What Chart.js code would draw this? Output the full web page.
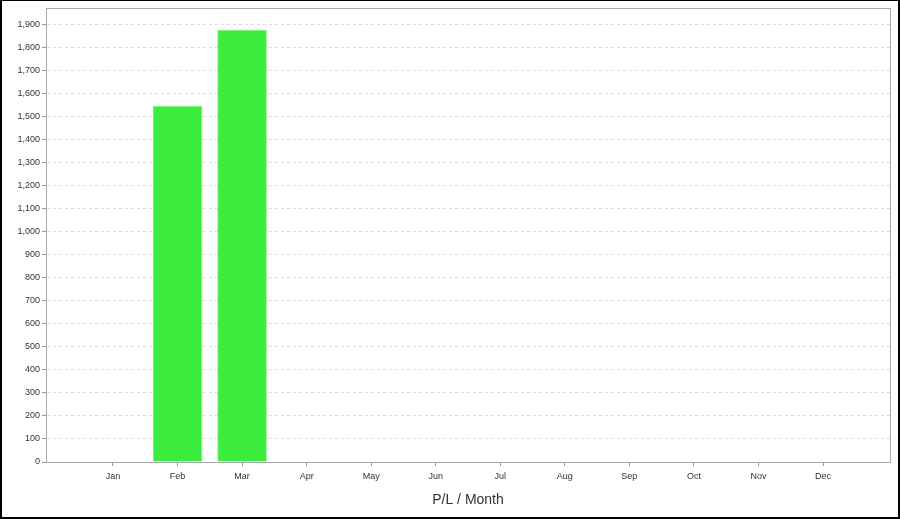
<!DOCTYPE html>
<html>
<head>
<meta charset="utf-8">
<script src="https://cdn.jsdelivr.net/npm/chart.js@4"></script>
<style>
  html, body { margin: 0; padding: 0; background: #fff; }
  canvas { display: block; }
</style>
</head>
<body>
<canvas id="chart" width="900" height="519"></canvas>
<script>
const months = ["Jan", "Feb", "Mar", "Apr", "May", "Jun", "Jul", "Aug", "Sep", "Oct", "Nov", "Dec"];
const profit = [0, 1544, 1874, 0, 0, 0, 0, 0, 0, 0, 0, 0];
const yTicks = [0, 100, 200, 300, 400, 500, 600, 700, 800, 900, 1000, 1100, 1200, 1300, 1400, 1500, 1600, 1700, 1800, 1900];

// frame of the image and border round the plot
const framePlugin = {
  id: "frame",
  beforeDraw(chart) {
    const ctx = chart.ctx;
    ctx.save();
    ctx.fillStyle = "#fff";
    ctx.fillRect(0, 0, chart.width, chart.height);
    ctx.restore();
  },
  afterDraw(chart) {
    const ctx = chart.ctx;
    const a = chart.chartArea;
    ctx.save();
    ctx.strokeStyle = "#aaa";
    ctx.lineWidth = 1;
    ctx.strokeRect(a.left + 0.5, a.top + 0.5, a.right - a.left, a.bottom - a.top);
    ctx.fillStyle = "#000";
    ctx.fillRect(0, 0, chart.width, 1);
    ctx.fillRect(0, 0, 2, chart.height);
    ctx.fillRect(chart.width - 2, 0, 2, chart.height);
    ctx.fillRect(0, chart.height - 2, chart.width, 2);
    ctx.restore();
  }
};

const tickFont = { family: "'Liberation Sans', Arial, sans-serif", size: 9 };

new Chart(document.getElementById("chart"), {
  type: "bar",
  data: {
    datasets: [{
      data: profit.map((v, i) => ({ x: i, y: v })),
      backgroundColor: "#3ded3d",
      borderColor: "#8ff28f",
      borderWidth: 1,
      borderSkipped: "bottom",
      barThickness: 49
    }]
  },
  options: {
    responsive: false,
    animation: false,
    layout: { padding: { left: 0, right: 10, top: 8, bottom: 0 } },
    plugins: {
      legend: { display: false },
      tooltip: { enabled: false }
    },
    scales: {
      x: {
        type: "linear",
        offset: false,
        min: -1.038,
        max: 12.038,
        afterBuildTicks: (scale) => {
          scale.ticks = months.map((m, i) => ({ value: i }));
        },
        afterFit: (scale) => { scale.height = 57; },
        ticks: {
          callback: (v) => months[v],
          font: tickFont,
          color: "#333",
          padding: 5,
          maxRotation: 0,
          autoSkip: false
        },
        grid: {
          offset: false,
          drawOnChartArea: false,
          drawTicks: true,
          tickLength: 4,
          tickColor: "#999"
        },
        border: { color: "#999", width: 1 },
        title: {
          display: true,
          text: "P/L / Month",
          font: { family: "'Liberation Sans', Arial, sans-serif", size: 14 },
          color: "#333",
          padding: { top: 0, bottom: 10 }
        }
      },
      y: {
        min: 0,
        max: 1970,
        afterBuildTicks: (scale) => {
          scale.ticks = yTicks.map((v) => ({ value: v }));
        },
        afterFit: (scale) => { scale.width = 46; },
        ticks: {
          font: tickFont,
          color: "#333",
          padding: 2,
          callback: (v) => v.toLocaleString("en-US")
        },
        grid: {
          color: "#ddd",
          tickColor: "#999",
          tickLength: 4,
          tickBorderDash: []
        },
        border: { color: "#999", width: 1, dash: [3, 3] }
      }
    }
  },
  plugins: [framePlugin]
});
</script>
</body>
</html>
